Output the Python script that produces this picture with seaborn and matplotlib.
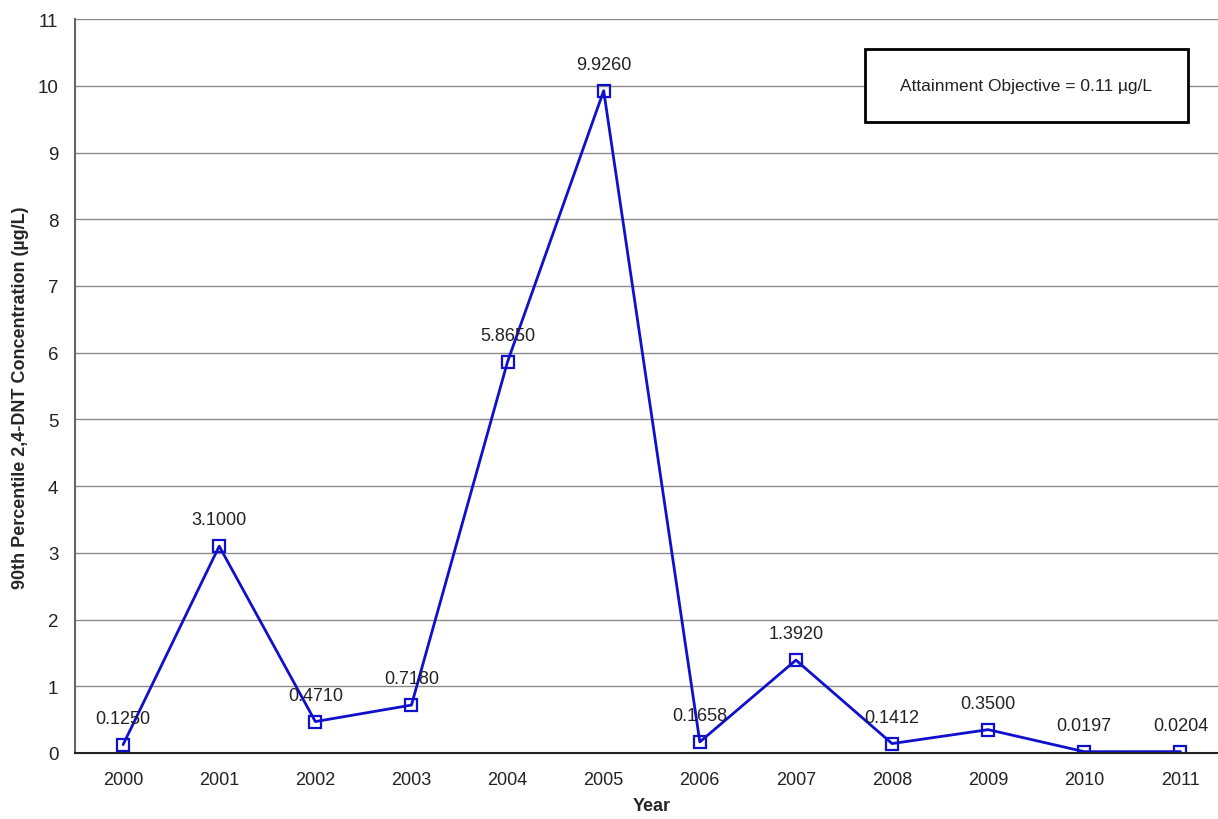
import seaborn as sns
import matplotlib.pyplot as plt
import pandas as pd
from matplotlib.patches import Rectangle

# Data
years = ['2000', '2001', '2002', '2003', '2004', '2005',
         '2006', '2007', '2008', '2009', '2010', '2011']
values = [0.1250, 3.1000, 0.4710, 0.7180, 5.8650, 9.9260,
          0.1658, 1.3920, 0.1412, 0.3500, 0.0197, 0.0204]
labels = ['0.1250', '3.1000', '0.4710', '0.7180', '5.8650', '9.9260',
          '0.1658', '1.3920', '0.1412', '0.3500', '0.0197', '0.0204']
y_ticks = list(range(0, 12))
objective_text = 'Attainment Objective = 0.11 \u00b5g/L'

df = pd.DataFrame({'Year': years, 'Value': values})

sns.set_style("white")
plt.rcParams['font.family'] = ['Liberation Sans', 'DejaVu Sans']

fig = plt.figure(figsize=(12.18, 8.2), dpi=100)
ax = fig.add_axes([0.0616, 0.0805, 0.947, 0.895])

line_color = '#1010CC'
sns.lineplot(data=df, x='Year', y='Value', ax=ax, color=line_color,
             linewidth=2, marker='s', markersize=9, markerfacecolor='none',
             markeredgecolor=line_color, markeredgewidth=1.6, sort=False)

# value labels above each point
for i, (v, lab) in enumerate(zip(values, labels)):
    ax.annotate(lab, (i, v), xytext=(0, 19), textcoords='offset points',
                ha='center', va='center', fontsize=13, color='#222222')

ax.set_xlim(-0.5, len(years) - 0.5)
ax.set_ylim(0, 11)
ax.set_yticks(y_ticks)
ax.set_yticklabels([str(t) for t in y_ticks], fontsize=13.5, color='#222222')
ax.set_xticks(range(len(years)))
ax.set_xticklabels(years, fontsize=13, color='#222222')
ax.set_xticks([i + 0.5 for i in range(len(years) - 1)], minor=True)

ax.tick_params(axis='x', which='major', length=0, pad=13)
ax.tick_params(axis='x', which='minor', length=7, width=1, color='#555555', direction='out')
ax.tick_params(axis='y', which='major', length=7, width=1, color='#555555',
               direction='out', pad=5)

ax.yaxis.grid(True, color='#8a8a8a', linewidth=1)
ax.set_axisbelow(True)
for side in ['top', 'right']:
    ax.spines[side].set_visible(False)
ax.spines['left'].set_color('#666666')
ax.spines['left'].set_linewidth(1.5)
ax.spines['bottom'].set_color('#222222')
ax.spines['bottom'].set_linewidth(1.5)

ax.set_xlabel('Year', fontsize=13, fontweight='bold')
ax.xaxis.set_label_coords(0.5, -0.06)
ax.set_ylabel('90th Percentile 2,4-DNT Concentration (\u00b5g/L)', fontsize=13,
              fontweight='bold')
ax.yaxis.set_label_coords(-0.04, 0.485)

# attainment objective box
box = Rectangle((0.6846, 0.8597), 0.2799, 0.0993, transform=ax.transAxes,
                facecolor='white', edgecolor='black', linewidth=2, zorder=5)
ax.add_patch(box)
ax.text(0.6846 + 0.2799 / 2, 0.8597 + 0.0993 / 2, objective_text,
        transform=ax.transAxes, ha='center', va='center', fontsize=12.5,
        color='#222222', zorder=6)

plt.savefig('out.png', dpi=100)
